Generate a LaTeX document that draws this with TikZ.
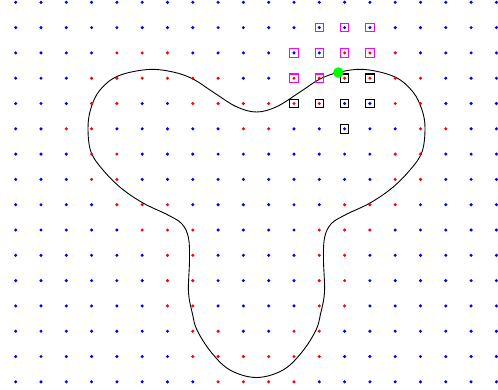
\documentclass[tikz,border=0pt]{standalone}
\definecolor{dotblue}{RGB}{0,0,255}
\definecolor{dotred}{RGB}{255,0,0}
\definecolor{sqmag}{RGB}{255,0,255}
\definecolor{mkgreen}{RGB}{0,255,0}
\begin{document}
\begin{tikzpicture}[x=1pt,y=-1pt,
  bluedot/.style={fill=dotblue},
  reddot/.style={fill=dotred},
  magsq/.style={draw=sqmag,line width=1.1pt,minimum size=8.5pt,inner sep=0pt},
  blksq/.style={draw=black,line width=1.1pt,minimum size=8.5pt,inner sep=0pt},
  shape curve/.style={draw=black,line width=0.9pt},
  greendot/.style={circle,fill=mkgreen,inner sep=0pt,minimum size=10.5pt}]
\useasboundingbox (0,0) rectangle (498,389);
% red dot set
\foreach \r/\cs in {2/{4,5,6,13,14,15},
  3/{3,4,5,6,7,8,11,12,13,14,15,16},
  4/{3,4,7,8,9,10,11,12,15,16},
  5/{2,3,9,10,16,17},
  6/{3,4,15,16},
  7/{3,4,15,16},
  8/{4,5,6,13,14,15},
  9/{5,6,7,12,13,14},
  10/{6,7,12,13},
  11/{6,7,12,13},
  12/{6,7,12,13},
  13/{7,8,11,12},
  14/{7,8,9,10,11,12},
  15/{8,9,10,11}}{
  \foreach \c in \cs {\expandafter\gdef\csname rd-\c-\r\endcsname{}}
}
% curve
\draw[shape curve] plot[smooth cycle, tension=0.6] coordinates {
 (256.5,112) (277,106.5) (300,92) (320,79) (340,72) (365,69.5) (395,77)
 (413,92) (422,110) (425,128) (422,152) (410,170) (392,188) (370,203)
 (345,215) (331,224) (324.5,238) (323.5,260) (324.5,292) (320.5,314)
 (316,330) (302,352) (283,370) (256.5,377.5)
 (230,370) (211,352) (197,330) (192.5,314) (188.5,292) (189.5,260)
 (188.5,238) (182,224) (168,215) (143,203) (121,188) (103,170) (91,152)
 (88,128) (91,108) (100,90) (118,76) (148,69.5) (173,72) (193,79)
 (213,92) (236,106.5)};
% squares
\foreach \c/\r [count=\i] in {13/3,14/3,11/4,12/4,13/4,14/4,13/5}{
  \node[blksq] (k\i) at (15.7+25.3*\c, 2.3+25.3*\r) {};
}
\foreach \c/\r [count=\i] in {14/1,13/1,11/2,12/2,13/2,14/2,11/3,12/3,12/1}{
  \node[magsq] (m\i) at (15.7+25.3*\c, 2.3+25.3*\r) {};
}
% dots
\foreach \c in {0,...,19}{
  \foreach \r in {0,...,15}{
    \ifcsname rd-\c-\r\endcsname
      \fill[reddot] (15.7+25.3*\c, 2.3+25.3*\r) circle (1.7);
    \else
      \fill[bluedot] (15.7+25.3*\c, 2.3+25.3*\r) circle (1.7);
    \fi
  }
}
\node[greendot] (g) at (338.3,72.5) {};
\end{tikzpicture}
\end{document}
